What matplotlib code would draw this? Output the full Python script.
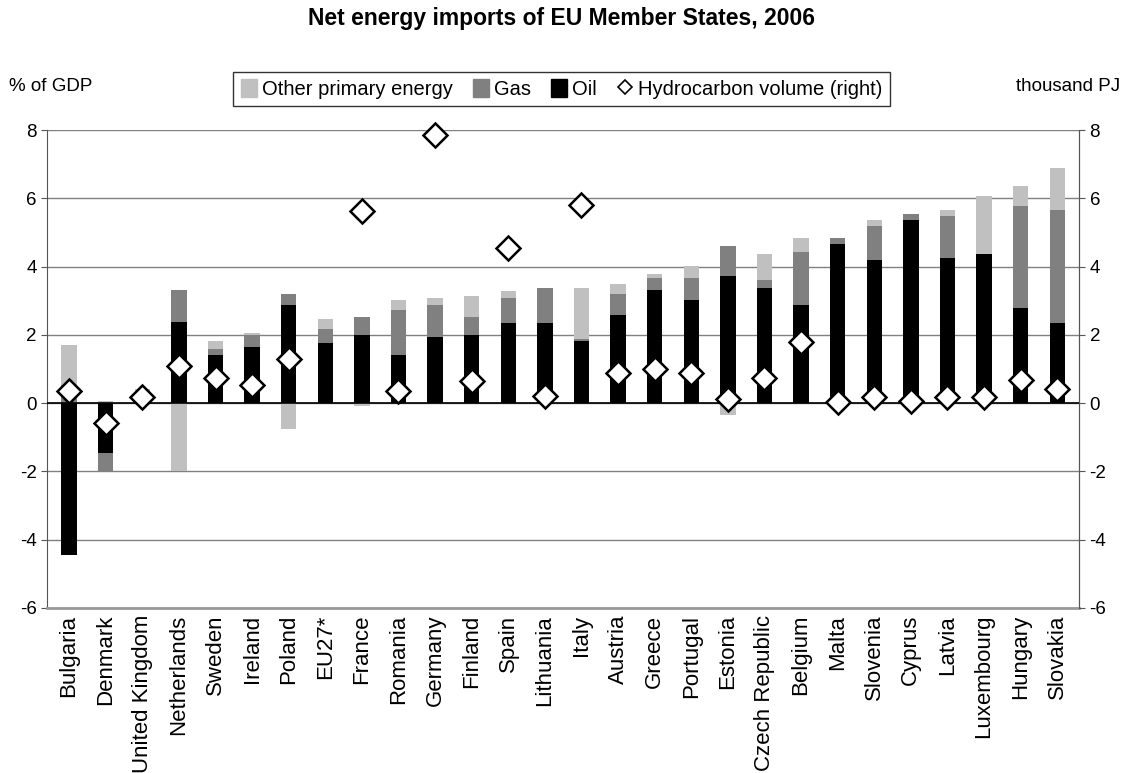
import numpy as np
import matplotlib
matplotlib.use('Agg')
import matplotlib.pyplot as plt
from matplotlib.lines import Line2D
from matplotlib.patches import Patch

plt.rcParams['font.family'] = ['Liberation Sans', 'DejaVu Sans']
plt.rcParams['axes.unicode_minus'] = False

# data (% of GDP, hydrocarbon volume in thousand PJ)
countries = ['Bulgaria', 'Denmark', 'United Kingdom', 'Netherlands', 'Sweden', 'Ireland',
             'Poland', 'EU27*', 'France', 'Romania', 'Germany', 'Finland', 'Spain',
             'Lithuania', 'Italy', 'Austria', 'Greece', 'Portugal', 'Estonia',
             'Czech Republic', 'Belgium', 'Malta', 'Slovenia', 'Cyprus', 'Latvia',
             'Luxembourg', 'Hungary', 'Slovakia']
oil = [-4.45, -1.47, 0.0, 2.39, 1.40, 1.64, 2.86, 1.75, 1.99, 1.40, 1.93, 1.99, 2.34, 2.34,
       1.81, 2.57, 3.32, 3.03, 3.73, 3.38, 2.86, 4.66, 4.19, 5.36, 4.25, 4.37, 2.80, 2.34]
gas = [0.53, -0.51, 0.0, 0.93, 0.18, 0.35, 0.35, 0.41, 0.52, 1.34, 0.93, 0.52, 0.75, 1.04,
       0.06, 0.64, 0.35, 0.64, 0.87, 0.23, 1.57, 0.18, 0.99, 0.17, 1.22, 0.0, 2.97, 3.31]
other = [1.16, 0.06, 0.42, -1.98, 0.23, 0.05, -0.77, 0.29, -0.07, 0.29, 0.23, 0.64, 0.18, 0.0,
         1.51, 0.29, 0.12, 0.35, -0.36, 0.76, 0.41, 0.0, 0.18, 0.0, 0.18, 1.69, 0.58, 1.23]
hydro = [0.35, -0.57, 0.17, 1.10, 0.75, 0.52, 1.28, np.nan, 5.64, 0.35, 7.85, 0.64, 4.53, 0.21,
         5.81, 0.87, 0.99, 0.87, 0.12, 0.75, 1.80, 0.04, 0.17, 0.06, 0.17, 0.17, 0.69, 0.41]

fig = plt.figure(figsize=(11.23, 7.73), dpi=100)
ax = fig.add_axes([0.042, 0.2135, 0.919, 0.6183])
x = np.arange(len(countries))

# stack positives upward and negatives downward, like Excel
pos = np.zeros(len(x))
neg = np.zeros(len(x))
for vals, col in [(oil, 'black'), (gas, '#808080'), (other, '#c0c0c0')]:
    v = np.array(vals)
    bottom = np.where(v >= 0, pos, neg)
    ax.bar(x, v, 0.42, bottom=bottom, color=col, zorder=2)
    pos += np.where(v >= 0, v, 0)
    neg += np.where(v < 0, v, 0)

ax.axhline(0, color='black', lw=1.2, zorder=3)
ax.set_ylim(-6, 8)
ax.set_xlim(-0.6, len(x) - 0.4)
ax.set_yticks(range(-6, 9, 2))
ax.yaxis.grid(True, color='#808080', lw=1)
ax.set_axisbelow(True)
ax.set_xticks(x)
ax.set_xticklabels(countries, rotation=90, fontsize=16)
ax.tick_params(axis='x', length=0, pad=5)
ax.tick_params(axis='y', labelsize=13.5, length=4, color='#555555')
for s in ['left', 'right']:
    ax.spines[s].set_color('#555555')
ax.spines['top'].set_visible(False)
ax.spines['bottom'].set_color('#999999')
ax.spines['bottom'].set_linewidth(2)

ax2 = ax.twinx()
ax2.set_ylim(-6, 8)
ax2.set_yticks(range(-6, 9, 2))
ax2.tick_params(axis='y', labelsize=13.5, length=4, color='#555555')
ax2.spines['right'].set_color('#555555')
ax2.spines['top'].set_visible(False)
ax2.spines['left'].set_visible(False)
ax2.spines['bottom'].set_visible(False)
ax2.plot(x, hydro, linestyle='none', marker='D', ms=12, mfc='white', mec='black', mew=1.8,
         zorder=5, clip_on=False)

fig.text(0.5, 0.976, 'Net energy imports of EU Member States, 2006', ha='center', va='center',
         fontsize=16.5, fontweight='bold')
fig.text(0.008, 0.888, '% of GDP', ha='left', va='center', fontsize=13.5)
fig.text(0.997, 0.888, 'thousand PJ', ha='right', va='center', fontsize=13.5)

handles = [Patch(color='#c0c0c0'), Patch(color='#808080'), Patch(color='black'),
           Line2D([], [], linestyle='none', marker='D', ms=7, mfc='white', mec='black', mew=1.2)]
labels = ['Other primary energy', 'Gas', 'Oil', 'Hydrocarbon volume (right)']
leg = fig.legend(handles, labels, loc='upper center', bbox_to_anchor=(0.5, 0.907), ncol=4,
                 fontsize=14.5, frameon=True, fancybox=False, edgecolor='black',
                 handlelength=0.8, handleheight=1.0, handletextpad=0.25, columnspacing=1.0,
                 borderpad=0.35, borderaxespad=0)
leg.get_frame().set_linewidth(1.0)

fig.savefig('out.png', dpi=100)
